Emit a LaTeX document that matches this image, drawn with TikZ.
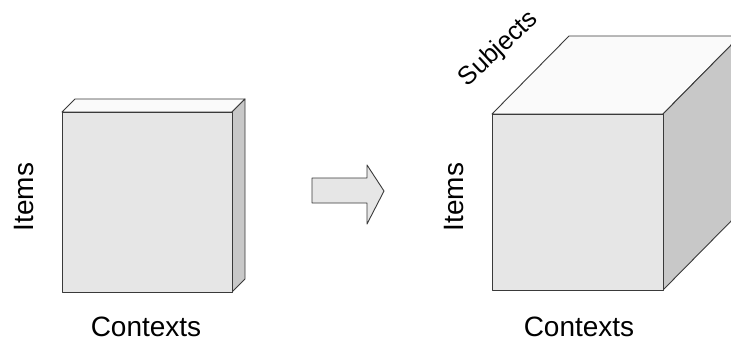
\documentclass[tikz,border=0pt]{standalone}
\usepackage{fontspec}
\setmainfont{Liberation Sans}
\definecolor{frontc}{HTML}{E6E6E6}
\definecolor{sidec}{HTML}{C8C8C8}
\definecolor{topc}{HTML}{FAFAFA}
\definecolor{edgec}{HTML}{3A3A3A}
\tikzset{
  face/.style={draw=edgec, line width=0.9pt, line join=round},
  lbl/.style={font=\fontsize{28}{30}\selectfont, inner sep=0pt},
  slbl/.style={font=\fontsize{25.5}{27}\selectfont, inner sep=0pt}
}
\begin{document}
\begin{tikzpicture}[x=1pt,y=-1pt]
\useasboundingbox (0,0) rectangle (731,341);
\fill[white] (0,0) rectangle (731,341);
\begin{scope}
\clip (0,0) rectangle (731,341);
% left slab
\filldraw[face, fill=topc] (62,112) -- (75,99) -- (245,99) -- (232,112) -- cycle;
\filldraw[face, fill=sidec] (232,112) -- (245,99) -- (245,279) -- (232,292) -- cycle;
\filldraw[face, fill=frontc] (62,112) rectangle (232,292);
% arrow
\filldraw[face, fill=frontc] (312,178) -- (367,178) -- (367,165) -- (384,191) -- (367,224) -- (367,203) -- (312,203) -- cycle;
% right cube
\filldraw[face, fill=topc] (492,114) -- (569,36) -- (740,36) -- (663,114) -- cycle;
\filldraw[face, fill=sidec] (663,114) -- (740,36) -- (740,212) -- (663,290) -- cycle;
\filldraw[face, fill=frontc] (492,114) rectangle (663,290);
\end{scope}
% labels
\node[lbl, rotate=90, anchor=base] (itemsL) at (33,197) {Items};
\node[lbl, anchor=base] (ctxL) at (146,336) {Contexts};
\node[lbl, rotate=90, anchor=base] (itemsR) at (463,197) {Items};
\node[lbl, anchor=base] (ctxR) at (579,336) {Contexts};
\node[slbl, rotate=43] (subj) at (499,49) {Subjects};
\end{tikzpicture}
\end{document}
